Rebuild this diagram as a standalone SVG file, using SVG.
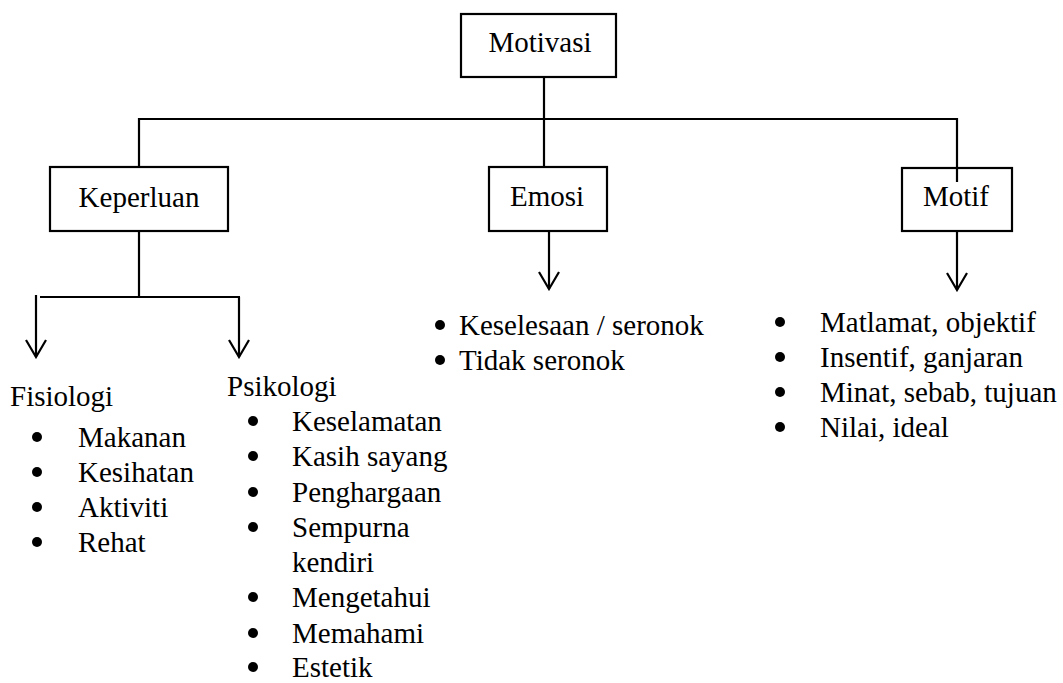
<svg xmlns="http://www.w3.org/2000/svg" width="1063" height="683" viewBox="0 0 1063 683" font-family="Liberation Serif, Times New Roman, serif" font-size="29">
<defs>
<marker id="v" markerUnits="userSpaceOnUse" markerWidth="22" markerHeight="24" refX="20" refY="12" orient="auto" viewBox="0 0 22 24">
<path d="M3 2 L20 12 L3 22" fill="none" stroke="#000" stroke-width="2.2"/>
</marker>
</defs>
<rect width="1063" height="683" fill="#fff"/>
<g id="connectors" fill="none" stroke="#000" stroke-width="2.2">
<path d="M544 77V119"/>
<path d="M138 119H957"/>
<path d="M139 118V167"/>
<path d="M544 119V167"/>
<path d="M957 118V182"/>
<path d="M139 231V297"/>
<path d="M40 297H240"/>
<path d="M36 295V357" marker-end="url(#v)"/>
<path d="M239 297V357" marker-end="url(#v)"/>
<path d="M549 231V289" marker-end="url(#v)"/>
<path d="M957 231V290" marker-end="url(#v)"/>
</g>
<g id="motivasi">
<rect x="461" y="14" width="155" height="63" fill="#fff" stroke="#000" stroke-width="2.2"/>
<text x="540" y="52" text-anchor="middle" style="font-family:'Liberation Serif',serif">Motivasi</text>
</g>
<g id="keperluan">
<rect x="50" y="167" width="178" height="64" fill="#fff" stroke="#000" stroke-width="2.2"/>
<text x="139" y="207" text-anchor="middle" style="font-family:'Liberation Serif',serif">Keperluan</text>
</g>
<g id="emosi">
<rect x="489" y="167" width="118" height="64" fill="#fff" stroke="#000" stroke-width="2.2"/>
<text x="547" y="206" text-anchor="middle" style="font-family:'Liberation Serif',serif">Emosi</text>
</g>
<g id="motif">
<rect x="902" y="168" width="110" height="63" fill="#fff" stroke="#000" stroke-width="2.2"/>
<path d="M957 168V182" stroke="#000" stroke-width="2.2"/>
<text x="956" y="206" text-anchor="middle" style="font-family:'Liberation Serif',serif">Motif</text>
</g>
<g id="fisiologi" style="font-family:'Liberation Serif',serif">
<text x="10" y="406">Fisiologi</text>
<circle cx="37" cy="437" r="5"/><text x="78" y="447">Makanan</text>
<circle cx="37" cy="472" r="5"/><text x="78" y="482">Kesihatan</text>
<circle cx="37" cy="507" r="5"/><text x="78" y="517">Aktiviti</text>
<circle cx="37" cy="542" r="5"/><text x="78" y="552">Rehat</text>
</g>
<g id="psikologi" style="font-family:'Liberation Serif',serif">
<text x="227" y="396">Psikologi</text>
<circle cx="253" cy="421" r="5"/><text x="292" y="431">Keselamatan</text>
<circle cx="253" cy="456" r="5"/><text x="292" y="466">Kasih sayang</text>
<circle cx="253" cy="492" r="5"/><text x="292" y="502">Penghargaan</text>
<circle cx="253" cy="527" r="5"/><text x="292" y="537">Sempurna</text>
<text x="292" y="572">kendiri</text>
<circle cx="253" cy="597" r="5"/><text x="292" y="607">Mengetahui</text>
<circle cx="253" cy="633" r="5"/><text x="292" y="643">Memahami</text>
<circle cx="253" cy="667" r="5"/><text x="292" y="677">Estetik</text>
</g>
<g id="emosi-list" style="font-family:'Liberation Serif',serif">
<circle cx="440" cy="325" r="5"/><text x="459" y="335">Keselesaan / seronok</text>
<circle cx="440" cy="360" r="5"/><text x="459" y="370">Tidak seronok</text>
</g>
<g id="motif-list" style="font-family:'Liberation Serif',serif">
<circle cx="780" cy="322" r="5"/><text x="820" y="332">Matlamat, objektif</text>
<circle cx="780" cy="357" r="5"/><text x="820" y="367">Insentif, ganjaran</text>
<circle cx="780" cy="392" r="5"/><text x="820" y="402">Minat, sebab, tujuan</text>
<circle cx="780" cy="427" r="5"/><text x="820" y="437">Nilai, ideal</text>
</g>
</svg>
